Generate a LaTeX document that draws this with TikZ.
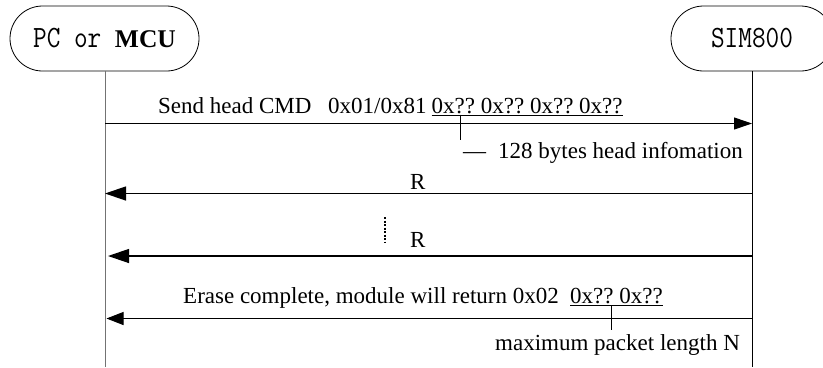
\documentclass[tikz,border=0pt]{standalone}
\usepackage{fontspec}
\usepackage{graphicx}
\setmainfont{Liberation Serif}
\usetikzlibrary{arrows.meta}
\begin{document}
\frenchspacing
\begin{tikzpicture}[x=1bp,y=-1bp,
  lbl/.style={inner sep=0pt, anchor=base west, font=\fontsize{23bp}{27bp}\selectfont\frenchspacing},
  actor/.style={draw, line width=0.8bp, rounded corners=32.5bp, minimum height=65bp, inner sep=0pt},
  lifeline/.style={line width=1bp},
  msg/.style={line width=1bp},
  smalltip/.style={-{Triangle[length=18bp,width=12bp]}},
  bigtip/.style={-{Triangle[length=21bp,width=14bp]}},
  midtip/.style={-{Triangle[length=17bp,width=13bp]}},
  tick/.style={line width=1bp},
  actortext/.style={font=\ttfamily\fontsize{26.5bp}{30bp}\selectfont}
]
\useasboundingbox (0,0) rectangle (823,367);

% actors
\node[actor, minimum width=189bp, actortext] (pc) at (104.5,38.5)
  {\scalebox{1}[1.17]{PC or} {\rmfamily\bfseries\fontsize{25.5bp}{30bp}\selectfont MCU}};
\node[actor, minimum width=162bp, actortext] (sim) at (752,38.5)
  {\scalebox{1}[1.17]{SIM800}};

% lifelines
\coordinate (pcend) at (105,367);
\coordinate (simend) at (752,367);
\draw[lifeline, black!55] (pc.south -| pcend) -- (pcend);
\draw[lifeline] (sim.south) -- (simend);

% message coordinates
\coordinate (p1) at (105,123.5);   \coordinate (s1) at (752,123.5);
\coordinate (p2) at (105,193.5);   \coordinate (s2) at (752,193.5);
\coordinate (p3) at (108,256);     \coordinate (s3) at (752,256);
\coordinate (p4) at (106.5,318.5); \coordinate (s4) at (752,318.5);

% message 1
\draw[msg, smalltip] (p1) -- (s1);
\node[lbl] (m1a) at (158,113) {Send head CMD};
\node[lbl] (m1b) at (328,113) {0x01/0x81};
\node[lbl] (m1c) at (431.5,113) {\underline{0x??\ 0x??\ 0x??\ 0x??}};
\coordinate (t1a) at (460.5,114.5);
\coordinate (t1b) at (460.5,140);
\draw[tick] (t1a) -- (t1b);
\node[lbl] (n1) at (463,158) {—\hspace{12bp}128 bytes head infomation};

% message 2
\draw[msg, line width=1.3bp, bigtip] (s2) -- (p2);
\node[lbl] (r1) at (410,189.3) {R};

% dotted
\coordinate (d1) at (385,217);
\coordinate (d2) at (385,243);
\draw[line width=1.5bp, dash pattern=on 2bp off 1.5bp] (d1) -- (d2);

% message 3
\draw[msg, line width=1.3bp, bigtip] (s3) -- (p3);
\node[lbl] (r2) at (410,247.7) {R};

% message 4
\draw[msg, midtip] (s4) -- (p4);
\node[lbl] (m4a) at (183,303.3) {Erase complete,\ module will return 0x02};
\node[lbl] (m4b) at (570,303.3) {\underline{0x??\ 0x??}};
\coordinate (t4a) at (611.5,305);
\coordinate (t4b) at (611.5,330);
\draw[tick] (t4a) -- (t4b);
\node[lbl] (n4) at (495,350) {maximum packet length N};
\end{tikzpicture}
\end{document}
